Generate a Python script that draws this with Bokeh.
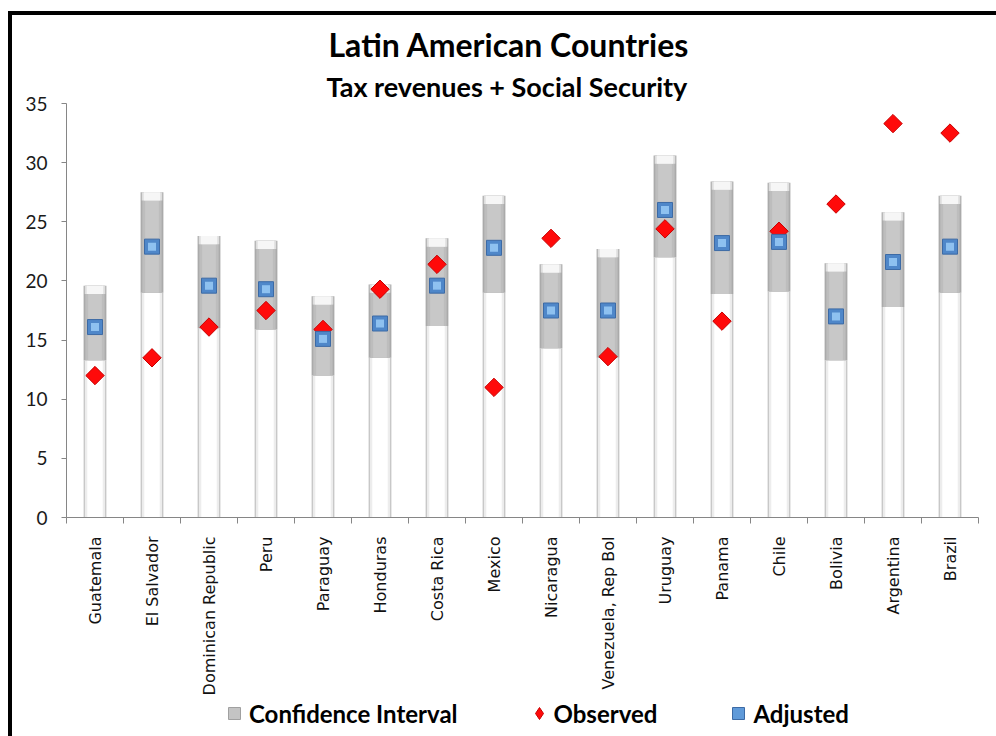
import numpy as np
from bokeh.plotting import figure
from bokeh.layouts import column
from bokeh.models import (Range1d, FixedTicker, Legend, LegendItem, Title,
                          ColumnDataSource)
from bokeh.embed import file_html
from bokeh.resources import INLINE

# --- data -------------------------------------------------------------
categories = ["Guatemala", "El Salvador", "Dominican Republic", "Peru", "Paraguay",
              "Honduras", "Costa Rica", "Mexico", "Nicaragua", "Venezuela, Rep Bol",
              "Uruguay", "Panama", "Chile", "Bolivia", "Argentina", "Brazil"]
ci_low = [13.3, 19.0, 16.0, 15.9, 12.0, 13.5, 16.2, 19.0, 14.3, 13.5,
          22.0, 18.9, 19.1, 13.3, 17.8, 19.0]
ci_high = [19.6, 27.5, 23.8, 23.4, 18.7, 19.7, 23.6, 27.2, 21.4, 22.7,
           30.6, 28.4, 28.3, 21.5, 25.8, 27.2]
observed = [12.0, 13.5, 16.1, 17.5, 15.9, 19.3, 21.4, 11.0, 23.6, 13.6,
            24.4, 16.6, 24.2, 26.5, 33.3, 32.5]
adjusted = [16.1, 22.9, 19.6, 19.3, 15.1, 16.4, 19.6, 22.8, 17.5, 17.5,
            26.0, 23.2, 23.3, 17.0, 21.6, 22.9]
y_ticks = [0, 5, 10, 15, 20, 25, 30, 35]

n = len(categories)
xc = [i + 0.5 for i in range(n)]
src = ColumnDataSource(dict(
    x=xc, low=ci_low, high=ci_high, obs=observed, adj=adjusted,
    cap=[h - 0.7 for h in ci_high],
))

# --- main chart -------------------------------------------------------
p = figure(width=984, height=683, x_range=Range1d(0, n), y_range=Range1d(0, 35),
           output_backend="svg", toolbar_location=None,
           min_border_left=54, min_border_right=18,
           min_border_top=88, min_border_bottom=180)
p.outline_line_color = None
p.grid.visible = False
p.background_fill_color = "white"
p.border_fill_color = "white"

p.title.text = "Latin American Countries"
p.title.align = "left"
p.title.offset = 262
p.title.standoff = 5
p.title.text_font = "Lato"
p.title.text_font_style = "bold"
p.title.text_font_size = "32px"
p.title.text_color = "#000000"
p.add_layout(Title(text="Tax revenues  + Social Security", align="left",
                   offset=260, standoff=2, text_font="Lato",
                   text_font_style="bold", text_font_size="27px",
                   text_color="#000000"), "above")

axis_grey = "#868686"
p.yaxis.ticker = FixedTicker(ticks=y_ticks)
p.yaxis.axis_line_color = axis_grey
p.yaxis.major_tick_line_color = axis_grey
p.yaxis.major_tick_out = 5
p.yaxis.major_tick_in = 0
p.yaxis.minor_tick_line_color = None
p.yaxis.major_label_text_font = "Lato"
p.yaxis.major_label_text_font_size = "19px"
p.yaxis.major_label_text_color = "#1a1a1a"
p.yaxis.major_label_standoff = 14

p.xaxis.ticker = FixedTicker(ticks=xc, minor_ticks=list(range(n + 1)))
p.xaxis.major_label_overrides = {x: c for x, c in zip(xc, categories)}
p.xaxis.axis_line_color = axis_grey
p.xaxis.major_tick_out = 0
p.xaxis.major_tick_in = 0
p.xaxis.minor_tick_line_color = axis_grey
p.xaxis.minor_tick_out = 6
p.xaxis.minor_tick_in = 0
p.xaxis.major_label_orientation = np.pi / 2
p.xaxis.major_label_text_font = "DejaVu Sans"
p.xaxis.major_label_text_font_size = "16px"
p.xaxis.major_label_text_color = "#111111"
p.xaxis.major_label_standoff = 13

# confidence-interval columns, layered for a shaded look
for w, col in [(0.40, "#c8c8c8"), (0.35, "#ededed"), (0.27, "#ffffff")]:
    p.vbar(x="x", width=w, bottom=0, top="low", fill_color=col,
           line_color=None, source=src)
for w, col in [(0.40, "#aaaaaa"), (0.34, "#bdbdbd"), (0.24, "#c8c8c8")]:
    p.vbar(x="x", width=w, bottom="low", top="high", fill_color=col,
           line_color=None, source=src)
for w, col in [(0.36, "#dedede"), (0.29, "#f6f6f6")]:
    p.vbar(x="x", width=w, bottom="cap", top="high", fill_color=col,
           line_color=None, source=src)

# markers: observed diamonds, adjusted bevelled squares
p.scatter("x", "obs", marker="square", angle=np.pi / 4, size=13,
          fill_color="#ff0a0a", line_color="#c80000", line_width=1, source=src)
p.scatter("x", "adj", marker="square", size=15,
          fill_color="#4f87c9", line_color="#3c6aa5", line_width=1, source=src)
p.scatter("x", "adj", marker="square", size=8,
          fill_color="#8ec1f0", line_color=None, source=src)

# --- legend strip -----------------------------------------------------
leg = figure(width=984, height=40, x_range=Range1d(0, 1), y_range=Range1d(0, 1),
             output_backend="svg", toolbar_location=None,
             x_axis_location=None, y_axis_location=None, min_border=0)
leg.outline_line_color = None
leg.grid.visible = False

# swatches shown only through the legend (zero size on the canvas)
sw_ci = leg.scatter("x", "high", marker="square", size=0, fill_color="#c4c4c4",
                    line_color="#a0a0a0", line_width=1, source=src)
sw_obs = leg.scatter("x", "obs", marker="diamond", size=0, fill_color="#ff0a0a",
                     line_color="#c80000", line_width=1, source=src)
sw_adj = leg.scatter("x", "adj", marker="square", size=0, fill_color="#5f9ad9",
                     line_color="#3c6aa5", line_width=1, source=src)

legend = Legend(items=[LegendItem(label="Confidence Interval", renderers=[sw_ci]),
                       LegendItem(label="Observed", renderers=[sw_obs]),
                       LegendItem(label="Adjusted", renderers=[sw_adj])],
                location=(153, 10), orientation="horizontal",
                glyph_width=30, glyph_height=30, label_standoff=0,
                label_height=30, padding=0, margin=0, spacing=66,
                border_line_color=None, background_fill_alpha=0.0,
                label_text_font="Lato", label_text_font_style="bold",
                label_text_font_size="24px", label_text_color="#000000")
leg.add_layout(legend)

# thick black rule along the top and left edges
layout = column(p, leg, spacing=0,
                styles={"border-top": "4px solid #000000",
                        "border-left": "4px solid #000000",
                        "margin-left": "8px", "margin-top": "11px"})

open("out.html", "w").write(file_html(layout, INLINE))
